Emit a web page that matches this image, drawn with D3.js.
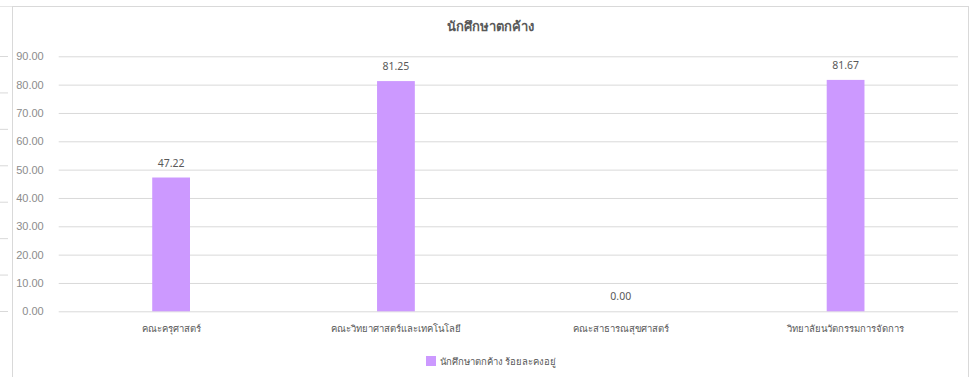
<!DOCTYPE html>
<html>
<head>
<meta charset="utf-8">
<script src="https://cdn.jsdelivr.net/npm/d3@7"></script>
<style>
  html, body { margin: 0; padding: 0; background: #fff; }
  svg { display: block; font-family: "Noto Sans", "Leelawadee UI", sans-serif; }
</style>
</head>
<body>
<svg id="chart"></svg>
<script>
// Chart data
const categories = ['คณะครุศาสตร์', 'คณะวิทยาศาสตร์และเทคโนโลยี', 'คณะสาธารณสุขศาสตร์', 'วิทยาลัยนวัตกรรมการจัดการ'];
const values = [47.22, 81.25, 0.00, 81.67];
const yTicks = [0, 10, 20, 30, 40, 50, 60, 70, 80, 90];
const chartTitle = 'นักศึกษาตกค้าง';
const seriesName = 'นักศึกษาตกค้าง ร้อยละคงอยู่';

const width = 970, height = 377;
const margin = { top: 56.3, right: 12, bottom: 65.7, left: 58.7 };
const innerWidth = width - margin.left - margin.right;
const innerHeight = height - margin.top - margin.bottom;
const barColor = '#cc99ff';

const svg = d3.select('#chart')
  .attr('width', width)
  .attr('height', height)
  .attr('viewBox', `0 0 ${width} ${height}`);

// Faint gridline stubs of the chart behind, peeking out at the left
const backY = d3.scaleLinear().domain([0, 7]).range([311, 56]);
svg.append('g').selectAll('line')
  .data(d3.range(0, 8))
  .join('line')
  .attr('x1', 0).attr('x2', 8)
  .attr('y1', d => backY(d) + 0.5).attr('y2', d => backY(d) + 0.5)
  .attr('stroke', '#d9d9d9');

// Chart frame
svg.append('rect')
  .attr('x', 12.5).attr('y', 6.5)
  .attr('width', 956).attr('height', 400)
  .attr('fill', '#fff')
  .attr('stroke', '#d9d9d9');
svg.append('line')
  .attr('x1', 0).attr('x2', 12).attr('y1', 6.5).attr('y2', 6.5)
  .attr('stroke', '#e6e6e6');

const g = svg.append('g').attr('transform', `translate(${margin.left}, ${margin.top})`);

const xScale = d3.scaleBand().domain(categories).range([0, innerWidth]).paddingInner(0.832).paddingOuter(0.416);
const yScale = d3.scaleLinear().domain([0, 90]).range([innerHeight, 0]);

// Grid
g.append('g').attr('class', 'grid')
  .call(d3.axisLeft(yScale).tickValues(yTicks).tickSize(-innerWidth).tickFormat(''))
  .call(s => s.select('.domain').remove())
  .call(s => s.selectAll('line').attr('stroke', '#d9d9d9').attr('stroke-width', 1));

// Y axis labels
g.append('g').attr('class', 'axis')
  .call(d3.axisLeft(yScale).tickValues(yTicks).tickSize(0).tickPadding(15).tickFormat(d => d.toFixed(2)))
  .call(s => s.select('.domain').remove())
  .call(s => s.selectAll('text').attr('fill', '#8c8c8c').attr('font-size', '11px'));

// X axis labels
g.append('g').attr('class', 'axis')
  .attr('transform', `translate(0, ${innerHeight})`)
  .call(d3.axisBottom(xScale).tickSize(0).tickPadding(14))
  .call(s => s.select('.domain').remove())
  .call(s => s.selectAll('text').attr('fill', '#595959').attr('font-size', '9.5px'));

// Bars
g.selectAll('rect.bar')
  .data(values)
  .join('rect')
  .attr('class', 'bar')
  .attr('x', (d, i) => xScale(categories[i]))
  .attr('width', xScale.bandwidth())
  .attr('y', d => yScale(d))
  .attr('height', d => innerHeight - yScale(d))
  .attr('fill', barColor);

// Data labels
g.selectAll('text.val')
  .data(values)
  .join('text')
  .attr('class', 'val')
  .attr('x', (d, i) => xScale(categories[i]) + xScale.bandwidth() / 2)
  .attr('y', d => yScale(d) - 11)
  .attr('text-anchor', 'middle')
  .attr('font-size', '10.5px')
  .attr('fill', '#595959')
  .text(d => d.toFixed(2));

// Title
svg.append('text')
  .attr('x', 490)
  .attr('y', 31)
  .attr('text-anchor', 'middle')
  .attr('font-size', '13px')
  .attr('font-weight', '700')
  .attr('fill', '#595959')
  .text(chartTitle);

// Legend
const legendG = svg.append('g').attr('transform', 'translate(426, 356)');
legendG.append('rect').attr('width', 10).attr('height', 10).attr('fill', barColor);
legendG.append('text').attr('x', 14).attr('y', 9).attr('font-size', '9.5px').attr('fill', '#595959').text(seriesName);
</script>
</body>
</html>
